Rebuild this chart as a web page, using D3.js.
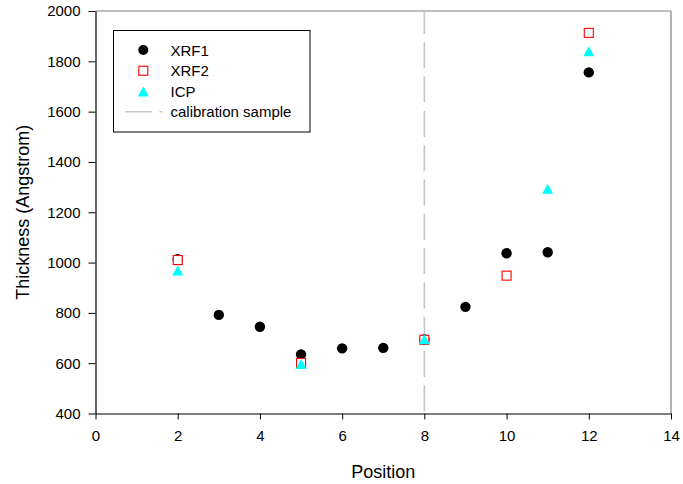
<!DOCTYPE html>
<html>
<head>
<meta charset="utf-8">
<script src="https://cdn.jsdelivr.net/npm/d3@7"></script>
<style>
  body { margin: 0; background: #fff; }
  svg { display: block; font-family: "Liberation Sans", Arial, sans-serif; }
</style>
</head>
<body>
<svg id="chart" width="683" height="484"></svg>
<script>
// ---- data ----
const xTicks = [0, 2, 4, 6, 8, 10, 12, 14];
const yTicks = [400, 600, 800, 1000, 1200, 1400, 1600, 1800, 2000];
const xrf1X = [2, 3, 4, 5, 6, 7, 8, 9, 10, 11, 12];
const xrf1Y = [1013, 792, 745, 635, 659, 661, 694, 824, 1037, 1041, 1756];
const xrf2X = [2, 5, 8, 10, 12];
const xrf2Y = [1010, 601, 693, 948, 1913];
const icpX = [2, 5, 8, 11, 12];
const icpY = [968, 597, 695, 1293, 1840];
const calibrationX = 8;
const legendLabels = ["XRF1", "XRF2", "ICP", "calibration sample"];

// ---- layout ----
const svg = d3.select("#chart");
const L = 95.5, R = 671, T = 11, B = 413.5;
const x = d3.scaleLinear().domain([0, 14]).range([L, R]);
const y = d3.scaleLinear().domain([400, 2000]).range([B, T]);

// frame (top/right gray)
svg.append("line").attr("x1", L).attr("x2", R).attr("y1", T).attr("y2", T)
  .attr("stroke", "#808080").attr("stroke-width", 1.2);
svg.append("line").attr("x1", R).attr("x2", R).attr("y1", T).attr("y2", B)
  .attr("stroke", "#808080").attr("stroke-width", 1.2);

// calibration line
svg.append("line")
  .attr("x1", x(calibrationX)).attr("x2", x(calibrationX))
  .attr("y1", y(2000)).attr("y2", y(400))
  .attr("stroke", "#c4c4c4").attr("stroke-width", 1.6)
  .attr("stroke-dasharray", "26,8.3").attr("stroke-dashoffset", 3);

// axes
const xAxis = d3.axisBottom(x).tickValues(xTicks).tickSizeInner(6).tickSizeOuter(0).tickPadding(11)
  .tickFormat(d3.format("d"));
const yAxis = d3.axisLeft(y).tickValues(yTicks).tickSizeInner(7).tickSizeOuter(0).tickPadding(8)
  .tickFormat(d3.format("d"));
const gx = svg.append("g").attr("transform", `translate(0,${B})`).call(xAxis);
const gy = svg.append("g").attr("transform", `translate(${L},0)`).call(yAxis);
[gx, gy].forEach(g => {
  g.select(".domain").attr("stroke", "#000").attr("stroke-width", 1.2);
  g.selectAll(".tick line").attr("stroke", "#000").attr("stroke-width", 1);
  g.selectAll(".tick text").attr("fill", "#000").style("font-size", "15px")
    .style("font-family", "'Liberation Sans', Arial, sans-serif");
});

// axis titles
svg.append("text").attr("x", (L + R) / 2).attr("y", 478).attr("text-anchor", "middle")
  .style("font-size", "18px").attr("fill", "#000").text("Position");
svg.append("text").attr("transform", `translate(29,${(T + B) / 2}) rotate(-90)`)
  .attr("text-anchor", "middle").style("font-size", "18px").attr("fill", "#000")
  .text("Thickness (Angstrom)");

// markers
const triPath = (w, h) => `M0,${-h / 2}L${w / 2},${h / 2}L${-w / 2},${h / 2}Z`;
const gm = svg.append("g");
gm.selectAll("circle.xrf1").data(xrf1X.map((d, i) => [d, xrf1Y[i]])).join("circle")
  .attr("class", "xrf1").attr("cx", d => x(d[0])).attr("cy", d => y(d[1])).attr("r", 5.2)
  .attr("fill", "#000");
gm.selectAll("rect.xrf2").data(xrf2X.map((d, i) => [d, xrf2Y[i]])).join("rect")
  .attr("class", "xrf2").attr("x", d => x(d[0]) - 4.5).attr("y", d => y(d[1]) - 4.5)
  .attr("width", 9).attr("height", 9).attr("fill", "#fff").attr("stroke", "#ff0000").attr("stroke-width", 1.1);
gm.selectAll("path.icp").data(icpX.map((d, i) => [d, icpY[i]])).join("path")
  .attr("class", "icp").attr("transform", d => `translate(${x(d[0])},${y(d[1])})`)
  .attr("d", triPath(11, 10)).attr("fill", "#00ffff");

// legend
const lg = svg.append("g");
lg.append("rect").attr("x", 113.5).attr("y", 30.5).attr("width", 196.5).attr("height", 101.5)
  .attr("fill", "#fff").attr("stroke", "#000").attr("stroke-width", 1);
const rowY = [50, 70.7, 91.5, 111.7];
const symX = 143.3;
lg.append("circle").attr("cx", symX).attr("cy", rowY[0]).attr("r", 5).attr("fill", "#000");
lg.append("rect").attr("x", symX - 4.5).attr("y", rowY[1] - 4.5).attr("width", 9).attr("height", 9)
  .attr("fill", "#fff").attr("stroke", "#ff0000").attr("stroke-width", 1.1);
lg.append("path").attr("transform", `translate(${symX},${rowY[2]})`).attr("d", triPath(11, 10))
  .attr("fill", "#00ffff");
lg.append("line").attr("x1", 125).attr("x2", 162).attr("y1", rowY[3]).attr("y2", rowY[3])
  .attr("stroke", "#c4c4c4").attr("stroke-width", 1.4).attr("stroke-dasharray", "27,7.5");
legendLabels.forEach((t, i) => {
  lg.append("text").attr("x", 170.5).attr("y", rowY[i] + 5.5).style("font-size", "15px")
    .attr("fill", "#000").text(t);
});
</script>
</body>
</html>
